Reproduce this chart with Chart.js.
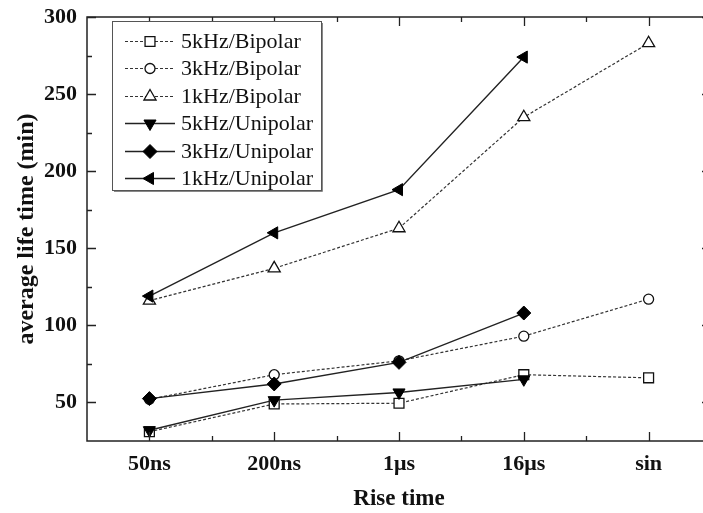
<!DOCTYPE html>
<html>
<head>
<meta charset="utf-8">
<script src="https://cdn.jsdelivr.net/npm/chart.js@4/dist/chart.umd.min.js"></script>
<style>
html, body { margin: 0; padding: 0; background: #fff; overflow: hidden; }
#wrap { position: relative; width: 720px; height: 513px; }
</style>
</head>
<body>
<div id="wrap"><canvas id="lifeTime"></canvas></div>
<script>
var categories = ['50ns', '200ns', '1\u03bcs', '16\u03bcs', 'sin'];

var bipolar5k = [31, 49, 49.5, 68, 66];
var bipolar3k = [52, 68, 77, 93, 117];
var bipolar1k = [116, 137, 163, 235, 283];
var unipolar5k = [32, 51.5, 56.5, 65, null];
var unipolar3k = [52.5, 62, 76, 108, null];
var unipolar1k = [119, 160, 188, 274, null];

var yTicks = [50, 100, 150, 200, 250, 300];

var serif = '"Liberation Serif", "Times New Roman", serif';
var ink = '#111';
var dashGray = '#333';

function bipolar(label, data, style) {
    return {
        label: label,
        data: data,
        order: 1,
        borderColor: dashGray,
        borderWidth: 1.2,
        borderDash: [3, 2],
        pointStyle: style.shape,
        pointRadius: style.radius,
        pointRotation: 0,
        pointBackgroundColor: '#fff',
        pointBorderColor: ink,
        pointBorderWidth: 1.3,
        tension: 0
    };
}

function unipolar(label, data, style) {
    return {
        label: label,
        data: data,
        order: 0,
        borderColor: '#222',
        borderWidth: 1.4,
        pointStyle: style.shape,
        pointRadius: style.radius,
        pointRotation: style.rotation,
        pointBackgroundColor: '#000',
        pointBorderColor: '#000',
        pointBorderWidth: 1,
        tension: 0
    };
}

////////////////////////////////////////////////////////////////////////////////
// Frame with inward ticks on all four sides.

var frameTicks = {
    id: 'frameTicks',
    afterDraw: function (chart) {
        var ctx = chart.ctx;
        var area = chart.chartArea;
        var xs = chart.scales.x;
        var ys = chart.scales.y;
        ctx.save();
        ctx.strokeStyle = '#222';
        ctx.lineWidth = 1.5;
        ctx.strokeRect(area.left, area.top, area.right - area.left, area.bottom - area.top);

        ctx.lineWidth = 1.3;
        ctx.beginPath();
        // y ticks, major and minor
        yTicks.forEach(function (v, i) {
            var py = Math.round(ys.getPixelForValue(v)) + 0.5;
            ctx.moveTo(area.left, py); ctx.lineTo(area.left + 9, py);
            ctx.moveTo(area.right, py); ctx.lineTo(area.right - 9, py);
            if (i > 0) {
                var my = Math.round(ys.getPixelForValue(v - 25)) + 0.5;
                ctx.moveTo(area.left, my); ctx.lineTo(area.left + 5, my);
                ctx.moveTo(area.right, my); ctx.lineTo(area.right - 5, my);
            }
        });
        // x ticks at categories, minor between them
        categories.forEach(function (c, i) {
            var px = Math.round(xs.getPixelForValue(i)) + 0.5;
            ctx.moveTo(px, area.bottom); ctx.lineTo(px, area.bottom - 9);
            ctx.moveTo(px, area.top); ctx.lineTo(px, area.top + 9);
            if (i < categories.length - 1) {
                var mx = Math.round((xs.getPixelForValue(i) + xs.getPixelForValue(i + 1)) / 2) + 0.5;
                ctx.moveTo(mx, area.bottom); ctx.lineTo(mx, area.bottom - 5);
                ctx.moveTo(mx, area.top); ctx.lineTo(mx, area.top + 5);
            }
        });
        ctx.stroke();
        ctx.restore();
    }
};

////////////////////////////////////////////////////////////////////////////////
// Boxed legend with a line sample and marker per series.

var boxLegend = {
    id: 'boxLegend',
    afterDraw: function (chart) {
        var ctx = chart.ctx;
        var area = chart.chartArea;
        var left = area.left + 25;
        var top = area.top + 4;
        var w = 209;
        var h = 169;
        ctx.save();
        ctx.fillStyle = '#fff';
        ctx.fillRect(left, top, w, h);
        ctx.strokeStyle = '#555';
        ctx.lineWidth = 1;
        ctx.strokeRect(left + 0.5, top + 0.5, w, h);
        ctx.strokeStyle = '#888';
        ctx.beginPath();
        ctx.moveTo(left + w + 1.5, top + 2); ctx.lineTo(left + w + 1.5, top + h + 1.5); ctx.lineTo(left + 2, top + h + 1.5);
        ctx.stroke();

        ctx.font = '22px ' + serif;
        ctx.textBaseline = 'middle';
        chart.data.datasets.forEach(function (ds, i) {
            var y = Math.round(top + 20 + i * 27.4);
            ctx.strokeStyle = ds.borderColor;
            ctx.lineWidth = ds.borderWidth;
            ctx.setLineDash(ds.borderDash || []);
            ctx.beginPath();
            ctx.moveTo(left + 13, y + 0.5);
            ctx.lineTo(left + 63, y + 0.5);
            ctx.stroke();
            ctx.setLineDash([]);
            ctx.fillStyle = ds.pointBackgroundColor;
            ctx.strokeStyle = ds.pointBorderColor;
            ctx.lineWidth = ds.pointBorderWidth;
            Chart.helpers.drawPoint(ctx, {
                pointStyle: ds.pointStyle,
                radius: ds.pointRadius,
                rotation: ds.pointRotation,
                borderWidth: ds.pointBorderWidth
            }, left + 38, y + 0.5);
            ctx.fillStyle = ink;
            ctx.fillText(ds.label, left + 69, y + 1);
        });
        ctx.restore();
    }
};

var ctx = document.getElementById('lifeTime').getContext('2d');
var myChart = new Chart(ctx, {
    type: 'line',
    plugins: [frameTicks, boxLegend],
    data: {
        labels: categories,
        datasets: [
            bipolar('5kHz/Bipolar', bipolar5k, { shape: 'rect', radius: 7 }),
            bipolar('3kHz/Bipolar', bipolar3k, { shape: 'circle', radius: 5 }),
            bipolar('1kHz/Bipolar', bipolar1k, { shape: 'triangle', radius: 7 }),
            unipolar('5kHz/Unipolar', unipolar5k, { shape: 'triangle', radius: 7, rotation: 180 }),
            unipolar('3kHz/Unipolar', unipolar3k, { shape: 'rectRot', radius: 7, rotation: 0 }),
            unipolar('1kHz/Unipolar', unipolar1k, { shape: 'triangle', radius: 7, rotation: 270 })
        ]
    },
    options: {
        responsive: true,
        maintainAspectRatio: false,
        animation: false,
        devicePixelRatio: 1,
        layout: { padding: { top: 17, right: 9, left: 0, bottom: 0 } },
        plugins: {
            legend: { display: false },
            tooltip: { enabled: false }
        },
        scales: {
            x: {
                type: 'category',
                offset: true,
                grid: { display: false, drawTicks: false },
                border: { display: false },
                ticks: {
                    color: ink,
                    padding: 10,
                    maxRotation: 0,
                    font: { family: serif, size: 22, weight: 'bold' }
                },
                title: {
                    display: true,
                    text: 'Rise time',
                    color: ink,
                    padding: { top: 0, bottom: 0 },
                    font: { family: serif, size: 23, weight: 'bold' }
                },
                afterFit: function (scale) {
                    scale.height = 72;
                    scale.paddingLeft = 0;
                    scale.paddingRight = 0;
                }
            },
            y: {
                min: 25,
                max: 300,
                grid: { display: false, drawTicks: false },
                border: { display: false },
                afterBuildTicks: function (scale) {
                    scale.ticks = yTicks.map(function (v) { return { value: v }; });
                },
                ticks: {
                    color: ink,
                    padding: 10,
                    font: { family: serif, size: 22, weight: 'bold' }
                },
                title: {
                    display: true,
                    text: 'average life time (min)',
                    color: ink,
                    padding: { top: 12, bottom: 0 },
                    font: { family: serif, size: 24, weight: 'bold' }
                },
                afterFit: function (scale) {
                    scale.width = 87;
                    scale.paddingTop = 0;
                    scale.paddingBottom = 0;
                }
            }
        }
    }
});
</script>
</body>
</html>
